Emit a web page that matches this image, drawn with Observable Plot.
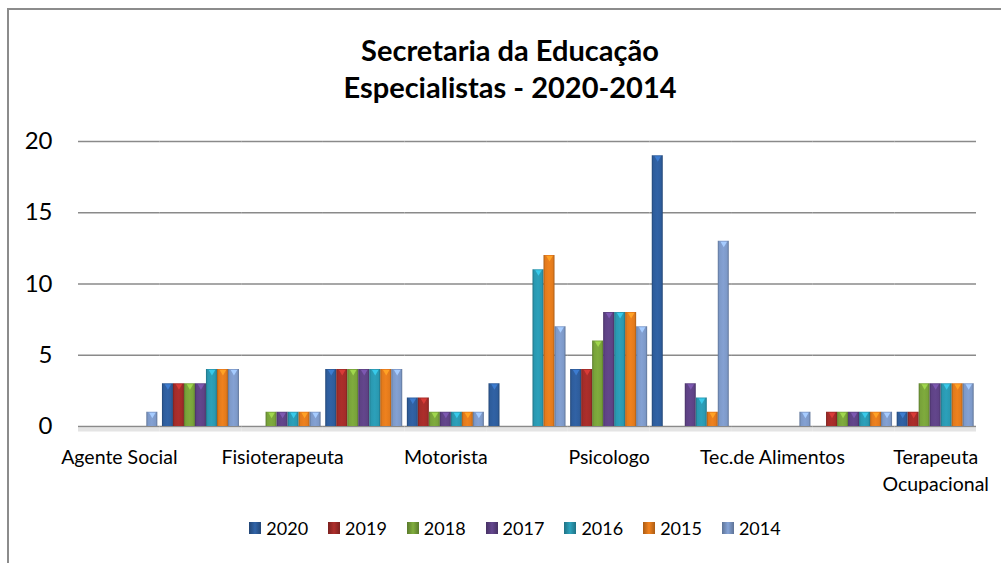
<!DOCTYPE html>
<html>
<head>
<meta charset="utf-8">
<script src="https://cdn.jsdelivr.net/npm/d3@7"></script>
<script src="https://cdn.jsdelivr.net/npm/@observablehq/plot@0.6"></script>
<style>
  html, body { margin: 0; padding: 0; background: #fff; overflow: hidden; }
  body { width: 1001px; height: 563px; position: relative; font-family: Lato, "Noto Sans", sans-serif; }
  #frame { position: absolute; left: 7px; top: 8px; width: 1100px; height: 700px; border: 2px solid #8c8c8c; box-sizing: border-box; }
  #title { position: absolute; left: 0; top: 31px; width: 1020px; text-align: center; font-weight: 700; font-size: 29px; line-height: 37px; color: #000; }
  #chart { position: absolute; left: 0; top: 0; }
  #legend { position: absolute; left: 0; top: 517px; width: 1030px; display: flex; justify-content: center; gap: 20px; font-size: 18px; color: #000; }
  .item { display: flex; align-items: center; gap: 5px; }
  .swatch { width: 12px; height: 12px; }
</style>
</head>
<body>
<div id="frame"></div>
<div id="title">Secretaria da Educação<br>Especialistas - 2020-2014</div>
<div id="chart"></div>
<div id="legend"></div>
<script>
// ---- data ----
const categories = [
  "Agente Social", "Assistente Social", "Fisioterapeuta", "Fonoaudiologo",
  "Motorista", "Nutricionista", "Psicologo", "Psicopedagogo",
  "Tec.de Alimentos", "Tec.de Enfermagem", "Terapeuta Ocupacional"
];
// category axis shows every other label (as in the original)
const xTickLabels = ["Agente Social", "Fisioterapeuta", "Motorista", "Psicologo", "Tec.de Alimentos", "Terapeuta\nOcupacional"];
const years = ["2020", "2019", "2018", "2017", "2016", "2015", "2014"];
const v2020 = [0, 3, 0, 4, 2, 3, 4, 19, 0, 0, 1];
const v2019 = [0, 3, 0, 4, 2, 0, 4, 0, 0, 1, 1];
const v2018 = [0, 3, 1, 4, 1, 0, 6, 0, 0, 1, 3];
const v2017 = [0, 3, 1, 4, 1, 0, 8, 3, 0, 1, 3];
const v2016 = [0, 4, 1, 4, 1, 11, 8, 2, 0, 1, 3];
const v2015 = [0, 4, 1, 4, 1, 12, 8, 1, 0, 1, 3];
const v2014 = [1, 4, 1, 4, 1, 7, 7, 13, 1, 1, 3];
const yTicks = [0, 5, 10, 15, 20];

// ---- styles ----
const colors = ["#2E5D9C", "#A32C29", "#78A23A", "#5E4285", "#2A98B0", "#E27A1C", "#7D99C8"];

const series = [v2020, v2019, v2018, v2017, v2016, v2015, v2014];
const rows = [];
years.forEach((yr, j) => {
  series[j].forEach((v, i) => {
    if (v > 0) rows.push({cat: categories[i], year: yr, value: v});
  });
});
const labelRows = xTickLabels.map((t, k) => ({cat: categories[k * 2], text: t}));
const gradIds = years.map(y => `url(#g${y})`);
const topColors = colors.map(c => d3.color(c).brighter(0.8).formatHex());

const plot = Plot.plot({
  width: 1001,
  height: 563,
  marginTop: 141,
  marginBottom: 137,
  marginLeft: 78,
  marginRight: 25,
  style: {fontFamily: "Lato, 'Noto Sans', sans-serif", fontSize: "24px", color: "#000", background: "transparent"},
  fx: {domain: categories, padding: 0, round: false, axis: null},
  x: {domain: years, paddingInner: 0, paddingOuter: 0.21, round: false, axis: null},
  y: {domain: [0, 20], ticks: yTicks, tickSize: 0, tickPadding: 26, label: null, tickFormat: d => d},
  color: {domain: years, range: gradIds},
  marks: [
    Plot.ruleY([0], {stroke: "#e4e4e4", strokeWidth: 4, dy: 3}),
    Plot.ruleY(yTicks, {stroke: "#8a8a8a", strokeWidth: 1.5}),
    Plot.barY(rows, {fx: "cat", x: "year", y: "value", fill: "year"}),
    Plot.dot(rows, {fx: "cat", x: "year", y: "value", symbol: "triangle", rotate: 180, r: 2.4, dy: 2.3,
      fill: d => topColors[years.indexOf(d.year)], stroke: "none"}),
    Plot.text(labelRows, {fx: "cat", text: "text", frameAnchor: "bottom", lineAnchor: "top", dy: 19,
      lineHeight: 1.37, fontSize: 19.5, fill: "#000"})
  ]
});

// bevel-like gradients for bars
const defs = d3.select(plot).insert("defs", ":first-child");
years.forEach((y, j) => {
  const base = d3.color(colors[j]);
  const g = defs.append("linearGradient").attr("id", `g${y}`).attr("x1", 0).attr("x2", 1).attr("y1", 0).attr("y2", 0);
  g.append("stop").attr("offset", "0%").attr("stop-color", base.darker(0.8).formatHex());
  g.append("stop").attr("offset", "16%").attr("stop-color", base.formatHex());
  g.append("stop").attr("offset", "50%").attr("stop-color", base.brighter(0.15).formatHex());
  g.append("stop").attr("offset", "84%").attr("stop-color", base.formatHex());
  g.append("stop").attr("offset", "100%").attr("stop-color", base.darker(0.8).formatHex());
});
document.getElementById("chart").appendChild(plot);

// legend
const legend = document.getElementById("legend");
years.forEach((y, j) => {
  const base = d3.color(colors[j]);
  const item = document.createElement("div");
  item.className = "item";
  const sw = document.createElement("div");
  sw.className = "swatch";
  sw.style.background = `linear-gradient(to right, ${base.darker(0.8)}, ${base.brighter(0.2)} 50%, ${base.darker(0.8)})`;
  const t = document.createElement("span");
  t.textContent = y;
  item.appendChild(sw);
  item.appendChild(t);
  legend.appendChild(item);
});
</script>
</body>
</html>
